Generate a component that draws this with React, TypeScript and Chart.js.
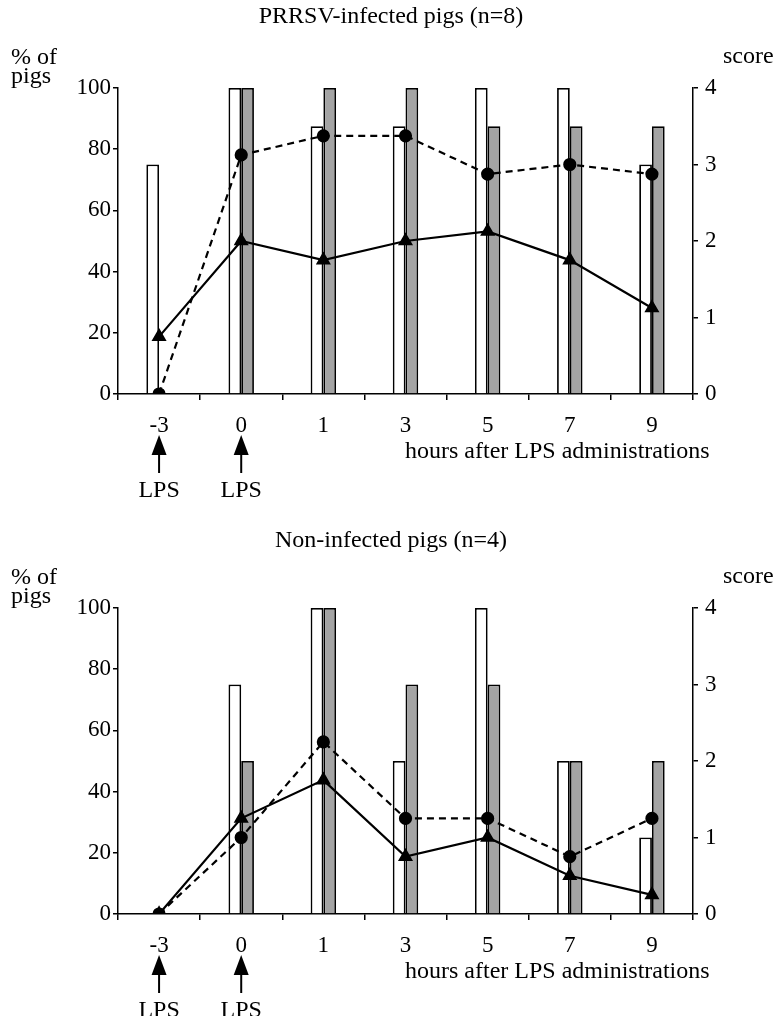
import React, { useEffect, useRef } from "react";
import { Chart, registerables } from "chart.js";

Chart.register(...registerables);

const FONT = '"Liberation Serif", "Times New Roman", serif';

// Categories: hours relative to LPS administration
const categories = ["-3", "0", "1", "3", "5", "7", "9"];
const lpsCategories = ["-3", "0"];

// PRRSV-infected pigs (n=8)
const prrsvWhiteBars = [75, 100, 87.5, 87.5, 100, 100, 75];
const prrsvGrayBars = [0, 100, 100, 100, 87.5, 87.5, 87.5];
const prrsvDashedScore = [0, 3.125, 3.375, 3.375, 2.875, 3, 2.875];
const prrsvSolidScore = [0.75, 2, 1.75, 2, 2.125, 1.75, 1.125];

// Non-infected pigs (n=4)
const nonWhiteBars = [0, 75, 100, 50, 100, 50, 25];
const nonGrayBars = [0, 50, 100, 75, 75, 50, 50];
const nonDashedScore = [0, 1, 2.25, 1.25, 1.25, 0.75, 1.25];
const nonSolidScore = [0, 1.25, 1.75, 0.75, 1, 0.5, 0.25];

// Axis ranges
const percentMax = 100;
const percentStep = 20;
const scoreMax = 4;
const scoreStep = 1;

const titles = ["PRRSV-infected pigs (n=8)", "Non-infected pigs (n=4)"];
const titleBaselines = [23, 27];

function makeAnnotPlugin(title: string, titleBaseline: number) {
  return {
    id: "annot",
    afterDraw(chart: any) {
      const ctx = chart.ctx as CanvasRenderingContext2D;
      ctx.save();
      ctx.fillStyle = "#000";
      ctx.strokeStyle = "#000";
      ctx.font = `24px ${FONT}`;
      ctx.textBaseline = "alphabetic";
      ctx.textAlign = "center";
      ctx.fillText(title, 391, titleBaseline);
      ctx.textAlign = "left";
      ctx.fillText("% of", 11, 64);
      ctx.fillText("pigs", 11, 83);
      ctx.fillText("score", 723, 63);
      ctx.fillText("hours after LPS administrations", 405, 458);
      const xs = chart.scales.x;
      lpsCategories.forEach((lab) => {
        const i = categories.indexOf(lab);
        const x = xs.getPixelForValue(i);
        ctx.beginPath();
        ctx.moveTo(x, 435);
        ctx.lineTo(x - 7.5, 455);
        ctx.lineTo(x + 7.5, 455);
        ctx.closePath();
        ctx.fill();
        ctx.lineWidth = 2;
        ctx.beginPath();
        ctx.moveTo(x, 450);
        ctx.lineTo(x, 473);
        ctx.stroke();
        ctx.textAlign = "center";
        ctx.font = `24px ${FONT}`;
        ctx.fillText("LPS", x, 497);
      });
      ctx.restore();
    },
  };
}

function PanelChart(props: {
  title: string;
  titleBaseline: number;
  white: number[];
  gray: number[];
  dashed: number[];
  solid: number[];
}) {
  const ref = useRef<HTMLCanvasElement | null>(null);
  useEffect(() => {
    if (!ref.current) return;
    const tickFont = { family: FONT, size: 23 };
    const chart = new Chart(ref.current, {
      type: "bar",
      data: {
        labels: categories,
        datasets: [
          {
            type: "line",
            data: props.solid,
            yAxisID: "y1",
            borderColor: "#000",
            borderWidth: 2.2,
            pointStyle: "triangle",
            pointRadius: 6.5,
            pointBackgroundColor: "#000",
            pointBorderColor: "#000",
            tension: 0,
            fill: false,
            order: 1,
          } as any,
          {
            type: "line",
            data: props.dashed,
            yAxisID: "y1",
            borderColor: "#000",
            borderWidth: 2.2,
            borderDash: [7, 5],
            pointStyle: "circle",
            pointRadius: 5.5,
            pointBackgroundColor: "#000",
            pointBorderColor: "#000",
            tension: 0,
            fill: false,
            order: 1,
          } as any,
          {
            type: "bar",
            data: props.white,
            yAxisID: "y",
            backgroundColor: "#ffffff",
            borderColor: "#000",
            borderWidth: 1.8,
            categoryPercentage: 0.31,
            barPercentage: 1,
            order: 2,
          } as any,
          {
            type: "bar",
            data: props.gray,
            yAxisID: "y",
            backgroundColor: "#a4a4a4",
            borderColor: "#000",
            borderWidth: 1.8,
            categoryPercentage: 0.31,
            barPercentage: 1,
            order: 2,
          } as any,
        ],
      },
      options: {
        responsive: false,
        animation: false,
        devicePixelRatio: 1,
        events: [],
        layout: { padding: { top: 88, bottom: 86, left: 0, right: 0 } },
        plugins: {
          legend: { display: false },
          tooltip: { enabled: false },
          title: { display: false },
        },
        scales: {
          x: {
            type: "category",
            offset: true,
            grid: {
              offset: true,
              drawOnChartArea: false,
              drawTicks: true,
              tickLength: 6,
              color: "#000",
              lineWidth: 1.5,
            },
            border: { display: true, color: "#000", width: 1.5 },
            ticks: {
              color: "#000",
              font: tickFont,
              padding: 12,
              maxRotation: 0,
              autoSkip: false,
            },
            afterFit: (s: any) => {
              s.height = 40;
            },
          },
          y: {
            position: "left",
            min: 0,
            max: percentMax,
            grid: {
              drawOnChartArea: false,
              drawTicks: true,
              tickLength: 5,
              color: "#000",
              lineWidth: 1.5,
            },
            border: { display: true, color: "#000", width: 1.5 },
            ticks: { stepSize: percentStep, color: "#000", font: tickFont, padding: 2 },
            afterFit: (s: any) => {
              s.width = 118;
            },
          },
          y1: {
            position: "right",
            min: 0,
            max: scoreMax,
            grid: {
              drawOnChartArea: false,
              drawTicks: true,
              tickLength: 5,
              color: "#000",
              lineWidth: 1.5,
            },
            border: { display: true, color: "#000", width: 1.5 },
            ticks: { stepSize: scoreStep, color: "#000", font: tickFont, padding: 7 },
            afterFit: (s: any) => {
              s.width = 85;
            },
          },
        },
      } as any,
      plugins: [makeAnnotPlugin(props.title, props.titleBaseline)],
    });
    return () => chart.destroy();
  }, []);
  return <canvas ref={ref} width={778} height={520} style={{ display: "block", width: 778, height: 520 }} />;
}

export default function App() {
  return (
    <div
      style={{
        position: "absolute",
        left: 0,
        top: 0,
        width: 778,
        height: 1016,
        overflow: "hidden",
        background: "#fff",
      }}
    >
      <div style={{ position: "absolute", left: 0, top: 0 }}>
        <PanelChart
          title={titles[0]}
          titleBaseline={titleBaselines[0]}
          white={prrsvWhiteBars}
          gray={prrsvGrayBars}
          dashed={prrsvDashedScore}
          solid={prrsvSolidScore}
        />
      </div>
      <div style={{ position: "absolute", left: 0, top: 520 }}>
        <PanelChart
          title={titles[1]}
          titleBaseline={titleBaselines[1]}
          white={nonWhiteBars}
          gray={nonGrayBars}
          dashed={nonDashedScore}
          solid={nonSolidScore}
        />
      </div>
    </div>
  );
}
